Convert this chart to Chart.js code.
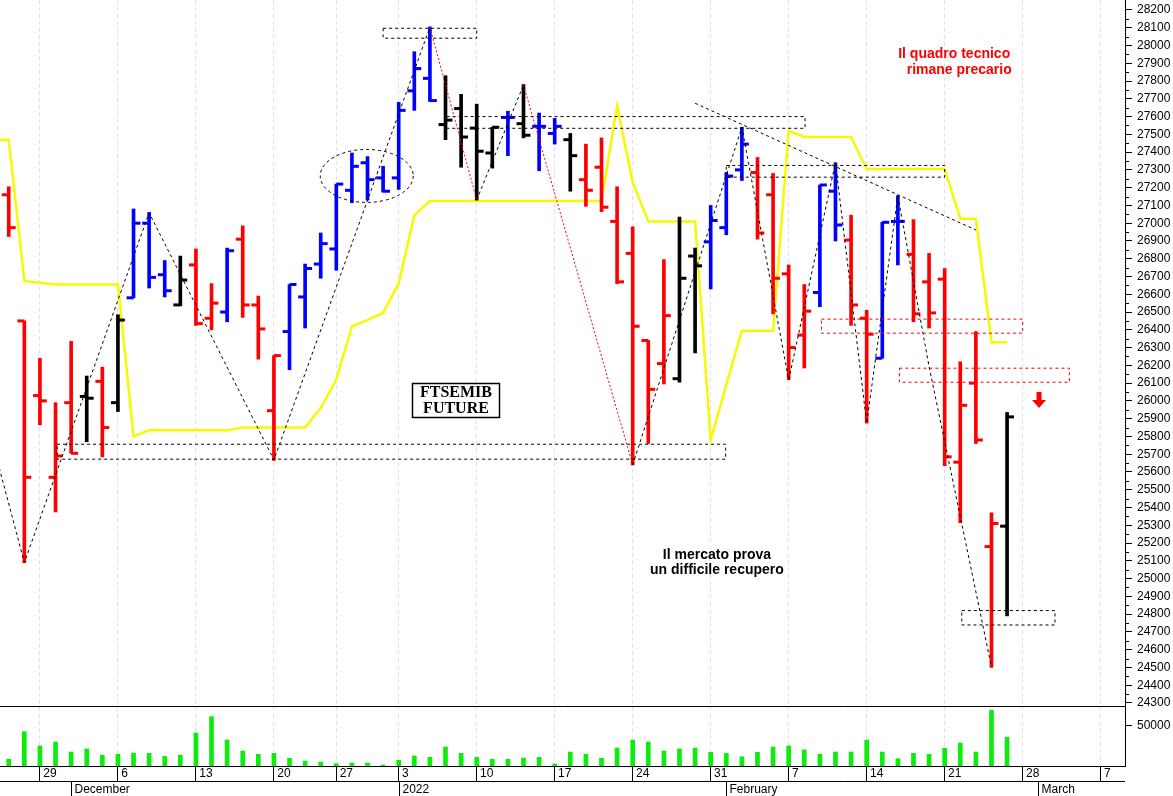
<!DOCTYPE html>
<html>
<head>
<meta charset="utf-8">
<title>FTSEMIB future</title>
<script src="https://cdn.jsdelivr.net/npm/chart.js@4.4.1/dist/chart.umd.min.js"></script>
<style>
  html, body { margin: 0; padding: 0; background: #fff; }
</style>
</head>
<body>
<canvas id="myChart" width="1173" height="796"></canvas>
<script>
// trading days shown, from 25 Nov 2021 (index 0)
const dates = ['2021-11-25', '11-26', '11-29', '11-30',
  '12-01', '12-02', '12-03', '12-06', '12-07', '12-08', '12-09', '12-10', '12-13', '12-14', '12-15',
  '12-16', '12-17', '12-20', '12-21', '12-22', '12-23', '12-27', '12-28', '12-29', '12-30',
  '2022-01-03', '01-04', '01-05', '01-06', '01-07', '01-10', '01-11', '01-12', '01-13', '01-14',
  '01-17', '01-18', '01-19', '01-20', '01-21', '01-24', '01-25', '01-26', '01-27', '01-28', '01-31',
  '02-01', '02-02', '02-03', '02-04', '02-07', '02-08', '02-09', '02-10', '02-11', '02-14',
  '02-15', '02-16', '02-17', '02-18', '02-21', '02-22', '02-23', '02-24', '02-25'];

const open = [27160, 26450, 26030, 25570, 25990, 26025, 26110, 25990, 26580, 27000,
  26710, 26540, 26765, 26465, 26500, 26910, 26540, 25945, 26390, 26585,
  26770, 26855, 27185, 27340, 27255, 27255, 27745, 27815, 27555, 27645,
  27535, 27395, 27595, 27560, 27545, 27505, 27470, 27245, 27315, 27010,
  26830, 26340, 26210, 26125, 26815, 26895, 26975, 27300, 27285, 27160,
  26715, 26370, 26610, 27180, 26905, 26465, 26240, 27010, 26825, 26670,
  26685, 25655, 26100, 25180, 25295];
const high = [27205, 26450, 26240, 25990, 26335, 26140, 26190, 26485, 27080, 27060,
  26790, 26815, 26855, 26660, 26860, 26985, 26590, 26255, 26655, 26770,
  26945, 27220, 27395, 27375, 27320, 27680, 27965, 28105, 27830, 27725,
  27670, 27540, 27630, 27780, 27620, 27590, 27505, 27445, 27480, 27205,
  26980, 26340, 26795, 27035, 26860, 27100, 27285, 27540, 27370, 27280,
  26765, 26655, 27215, 27340, 27045, 26510, 27005, 27155, 27020, 26830,
  26745, 26220, 26390, 25370, 25935];
const low = [26925, 25090, 25865, 25375, 25705, 25770, 25685, 25940, 26580, 26635,
  26585, 26535, 26425, 26400, 26445, 26470, 26235, 25665, 26175, 26410,
  26690, 26735, 27115, 27130, 27175, 27190, 27635, 27685, 27470, 27315,
  27130, 27310, 27380, 27480, 27295, 27445, 27180, 27095, 27065, 26660,
  25640, 25760, 26095, 26105, 26270, 26630, 26935, 27240, 26910, 26490,
  26120, 26185, 26530, 26900, 26425, 25875, 26240, 26765, 26445, 26410,
  25635, 25315, 25760, 24500, 24790];
const close = [26975, 25570, 26000, 25690, 25705, 26015, 25850, 26455, 27000, 26695,
  26620, 26680, 26435, 26550, 26845, 26540, 26405, 26255, 26655, 26745,
  26885, 27220, 27320, 27245, 27180, 27635, 27870, 27690, 27580, 27485,
  27405, 27540, 27595, 27495, 27545, 27545, 27380, 27185, 27090, 26670,
  26420, 26065, 26480, 26690, 26760, 27015, 27265, 27445, 26945, 26690,
  26300, 26505, 27215, 26990, 26540, 26375, 27005, 27010, 26490, 26495,
  25685, 25975, 25780, 25310, 25910];
// r = red, b = blue, k = black
const barColor = 'rrrrrkrkbbbkrrbrrrbbbbbbbbbbkkkkbkbbkrrrrrrkkbbbrrrrbbrrbbrrrrrrk'.split('');

const volume = [8200, 42100, 24600, 29500, 17200, 20900, 13100, 14400, 16000, 15600,
  11900, 13100, 40500, 60600, 31900, 18400, 14400, 15600, 9500, 6100,
  4900, 2800, 3700, 3700, 1200, 7000, 12300, 10700, 23300, 15600,
  10700, 8200, 8200, 9800, 10700, 2500, 17200, 14600, 9500, 22100,
  31900, 29500, 18400, 20900, 22100, 16800, 15600, 11400, 16800, 23300,
  24600, 19700, 14400, 17200, 17200, 31900, 17200, 9000, 15600, 14400,
  21700, 28300, 17200, 68400, 35300];

// yellow stop line
const stopLine = [27470, 26675, 26665, 26655, 26655, 26655, 26655, 26655, 25800, 25835,
  25835, 25835, 25835, 25835, 25835, 25850, 25850, 25850, 25850, 25850,
  25960, 26120, 26420, 26455, 26495, 26660, 27045, 27125, 27125, 27125,
  27125, 27125, 27125, 27125, 27125, 27125, 27125, 27125, 27125, 27660,
  27230, 27010, 27010, 27010, 27010, 25780, 26090, 26395, 26395, 26395,
  27520, 27485, 27485, 27485, 27485, 27305, 27305, 27305, 27305, 27305,
  27305, 27025, 27025, 26330, 26330];

// swing line (zigzag); legs starting at redLegs are red
const swingDay = [-1, 1, 9, 17, 27, 30, 33, 40, 47, 50, 53, 55, 57, 59, 61, 63];
const swingValue = [25752, 25090, 27059, 25668, 28103, 27131, 27778, 25640, 27540, 26118,
  27341, 25874, 27153, 26193, 25349, 24503];
const redLegs = [27, 33];

const trendDay = [44, 62];
const trendValue = [27675, 26962];

// dashed boxes
const boxFrom = [24, 3.1, 28.07, 46, 52.1, 57.1, 61.1];
const boxTo = [30, 45.96, 51.05, 60, 65, 68, 67.07];
const boxLow = [28041, 25672, 27534, 27259, 26381, 26105, 24739];
const boxHigh = [28097, 25756, 27600, 27325, 26460, 26184, 24820];
const boxRed = [false, false, false, false, true, true, false];

const tickDays = [2, 7, 12, 17, 21, 25, 30, 35, 40, 45, 50, 55, 60, 65, 70];
const tickLabels = ['29', '6', '13', '20', '27', '3', '10', '17', '24', '31', '7', '14', '21', '28', '7'];
const monthDays = [4, 25, 46, 66];
const monthLabels = ['December', '2022', 'February', 'March'];
const priceTicks = [24300, 24400, 24500, 24600, 24700, 24800, 24900, 25000, 25100, 25200,
  25300, 25400, 25500, 25600, 25700, 25800, 25900, 26000, 26100, 26200,
  26300, 26400, 26500, 26600, 26700, 26800, 26900, 27000, 27100, 27200,
  27300, 27400, 27500, 27600, 27700, 27800, 27900, 28000, 28100, 28200];
const volumeTicks = [50000];


const palette = { r: '#ff0000', b: '#0000ff', k: '#000000' };
const colors = barColor.map(c => palette[c]);
Chart.defaults.font.family = '"Liberation Sans", Arial, sans-serif';
Chart.defaults.font.size = 12;
Chart.defaults.color = '#000';

const boxSets = boxFrom.map((x1, i) => ({
  type: 'line',
  data: [
    { x: x1, y: boxHigh[i] }, { x: boxTo[i], y: boxHigh[i] },
    { x: boxTo[i], y: boxLow[i] }, { x: x1, y: boxLow[i] }, { x: x1, y: boxHigh[i] }
  ],
  borderColor: boxRed[i] ? '#ff0000' : '#000000',
  borderWidth: 1,
  borderDash: [3, 3],
  pointRadius: 0,
  yAxisID: 'y',
  order: 1
}));

const extras = {
  id: 'extras',
  afterDatasetsDraw(chart) {
    const { ctx } = chart;
    const x = chart.scales.x, y = chart.scales.y;
    ctx.save();

    // ellipse round the year-end pause
    const cx = x.getPixelForValue(22.95), cy = y.getPixelForValue(27266);
    const rx = cx - x.getPixelForValue(22.95 - 2.98);
    const ry = y.getPixelForValue(27266 - 149) - cy;
    ctx.strokeStyle = '#000';
    ctx.lineWidth = 1;
    ctx.setLineDash([3, 3]);
    ctx.beginPath();
    ctx.ellipse(cx, cy, rx, ry, 0, 0, Math.PI * 2);
    ctx.stroke();
    ctx.setLineDash([]);

    // title box
    const l = Math.round(x.getPixelForValue(25.83)) + 0.5, r = Math.round(x.getPixelForValue(31.43)) + 0.5;
    const t = Math.round(y.getPixelForValue(26100)) + 0.5, b = Math.round(y.getPixelForValue(25910)) + 0.5;
    ctx.fillStyle = '#fff';
    ctx.fillRect(l, t, r - l, b - t);
    ctx.lineWidth = 1.5;
    ctx.strokeRect(l, t, r - l, b - t);
    ctx.fillStyle = '#000';
    ctx.font = 'bold 16px "Liberation Serif", serif';
    ctx.textAlign = 'center';
    ctx.textBaseline = 'middle';
    ctx.fillText('FTSEMIB', (l + r) / 2, y.getPixelForValue(26047));
    ctx.fillText('FUTURE', (l + r) / 2, y.getPixelForValue(25953));

    // comments
    ctx.font = 'bold 14px "Liberation Sans", Arial, sans-serif';
    ctx.fillStyle = '#ff0000';
    ctx.textAlign = 'right';
    ctx.fillText('Il quadro tecnico', x.getPixelForValue(64.2), y.getPixelForValue(27952));
    ctx.fillText('rimane precario', x.getPixelForValue(64.3), y.getPixelForValue(27862));
    ctx.fillStyle = '#000';
    ctx.textAlign = 'center';
    ctx.fillText('Il mercato prova', x.getPixelForValue(45.4), y.getPixelForValue(25133));
    ctx.fillText('un difficile recupero', x.getPixelForValue(45.4), y.getPixelForValue(25049));

    // red arrow
    const ax = x.getPixelForValue(66.05);
    const at = y.getPixelForValue(26050), ab = y.getPixelForValue(25960);
    const mid = at + (ab - at) * 0.5;
    ctx.fillStyle = '#ff0000';
    ctx.fillRect(ax - 2.5, at, 5, mid - at + 1);
    ctx.beginPath();
    ctx.moveTo(ax - 7, mid);
    ctx.lineTo(ax + 7, mid);
    ctx.lineTo(ax, ab);
    ctx.closePath();
    ctx.fill();
    ctx.restore();
  },
  afterDraw(chart) {
    const { ctx, chartArea } = chart;
    const x = chart.scales.x, y = chart.scales.y, yv = chart.scales.yv;
    ctx.save();
    ctx.strokeStyle = '#000';
    ctx.lineWidth = 1;
    ctx.beginPath();
    // divider between price and volume
    ctx.moveTo(0, Math.round(yv.top) + 0.5);
    ctx.lineTo(chartArea.right, Math.round(yv.top) + 0.5);
    // divider under the day labels
    const rowY = Math.round(x.top + 15) + 0.5;
    ctx.moveTo(0, rowY);
    ctx.lineTo(chartArea.right, rowY);
    // minor ticks on the price axis
    priceTicks.slice(0, -1).forEach(v => {
      const py = Math.round(y.getPixelForValue(v + 50)) + 0.5;
      ctx.moveTo(chartArea.right, py);
      ctx.lineTo(chartArea.right + 4, py);
    });
    ctx.stroke();

    // month row
    ctx.font = '12px "Liberation Sans", Arial, sans-serif';
    ctx.fillStyle = '#000';
    ctx.textAlign = 'left';
    ctx.textBaseline = 'middle';
    monthDays.forEach((d, i) => {
      const px = Math.round(x.getPixelForValue(d)) + 0.5;
      ctx.beginPath();
      ctx.moveTo(px, rowY);
      ctx.lineTo(px, chart.height);
      ctx.stroke();
      ctx.fillText(monthLabels[i], px + 3, rowY + 8);
    });
    ctx.restore();
  }
};

new Chart(document.getElementById('myChart').getContext('2d'), {
  type: 'line',
  data: {
    datasets: [
      {
        type: 'line',
        data: [{ x: -1, y: stopLine[0] }].concat(stopLine.map((v, i) => ({ x: i, y: v }))),
        borderColor: '#f8f800',
        borderWidth: 2.5,
        pointRadius: 0,
        yAxisID: 'y',
        order: 6
      },
      {
        type: 'bar',
        data: volume.map((v, i) => ({ x: i, y: v })),
        backgroundColor: '#0aee0a',
        barThickness: 4,
        grouped: false,
        yAxisID: 'yv',
        order: 5
      },
      {
        type: 'bar',
        data: dates.map((d, i) => ({ x: i, y: [low[i], high[i]] })),
        backgroundColor: colors,
        barThickness: 3,
        grouped: false,
        yAxisID: 'y',
        order: 4
      },
      {
        type: 'line',
        data: open.map((v, i) => ({ x: i - 0.22, y: v })),
        showLine: false,
        pointStyle: 'line',
        pointRadius: 3.5,
        pointBorderWidth: 3,
        pointBorderColor: colors,
        yAxisID: 'y',
        order: 3
      },
      {
        type: 'line',
        data: close.map((v, i) => ({ x: i + 0.22, y: v })),
        showLine: false,
        pointStyle: 'line',
        pointRadius: 3.5,
        pointBorderWidth: 3,
        pointBorderColor: colors,
        yAxisID: 'y',
        order: 3
      },
      {
        type: 'line',
        data: swingDay.map((d, i) => ({ x: d, y: swingValue[i] })),
        borderColor: '#000',
        borderWidth: 1,
        borderDash: [3, 3],
        pointRadius: 0,
        segment: {
          borderColor: c => redLegs.includes(c.p0.parsed.x) ? '#ff0000' : undefined,
          borderDash: c => redLegs.includes(c.p0.parsed.x) ? [2, 2] : undefined
        },
        yAxisID: 'y',
        order: 1
      },
      {
        type: 'line',
        data: trendDay.map((d, i) => ({ x: d, y: trendValue[i] })),
        borderColor: '#000',
        borderWidth: 1,
        borderDash: [3, 3],
        pointRadius: 0,
        yAxisID: 'y',
        order: 1
      }
    ].concat(boxSets)
  },
  options: {
    responsive: false,
    animation: false,
    events: [],
    layout: { padding: 0, autoPadding: false },
    plugins: { legend: { display: false }, tooltip: { enabled: false } },
    scales: {
      x: {
        type: 'linear',
        min: -0.56,
        max: 71.56,
        offset: false,
        afterBuildTicks: s => { s.ticks = tickDays.map(v => ({ value: v })); },
        afterFit: s => { s.height = 30; s.paddingLeft = 0; s.paddingRight = 0; },
        ticks: {
          autoSkip: false,
          maxRotation: 0,
          align: 'start',
          padding: -14.7,
          callback: (v, i) => ' ' + tickLabels[i]
        },
        grid: { offset: false, color: '#dfdfee', tickColor: '#000', tickLength: 15, tickBorderDash: [] },
        border: { color: '#000', dash: [4, 3] }
      },
      y: {
        position: 'right',
        stack: 'panes',
        stackWeight: 706,
        min: 24283,
        max: 28256,
        afterBuildTicks: s => { s.ticks = priceTicks.map(v => ({ value: v })); },
        afterFit: s => { s.width = 48; s.paddingTop = 0; s.paddingBottom = 0; },
        ticks: { autoSkip: false, padding: 5, callback: v => String(v) },
        grid: { drawOnChartArea: false, tickLength: 7, tickColor: '#000' },
        border: { color: '#000' }
      },
      yv: {
        position: 'right',
        stack: 'panes',
        stackWeight: 60,
        min: 0,
        max: 73700,
        afterBuildTicks: s => { s.ticks = volumeTicks.map(v => ({ value: v })); },
        afterFit: s => { s.width = 48; s.paddingTop = 0; s.paddingBottom = 0; },
        ticks: { autoSkip: false, padding: 5, callback: v => String(v) },
        grid: { drawOnChartArea: false, tickLength: 7, tickColor: '#000' },
        border: { color: '#000' }
      }
    }
  },
  plugins: [extras]
});
</script>
</body>
</html>
